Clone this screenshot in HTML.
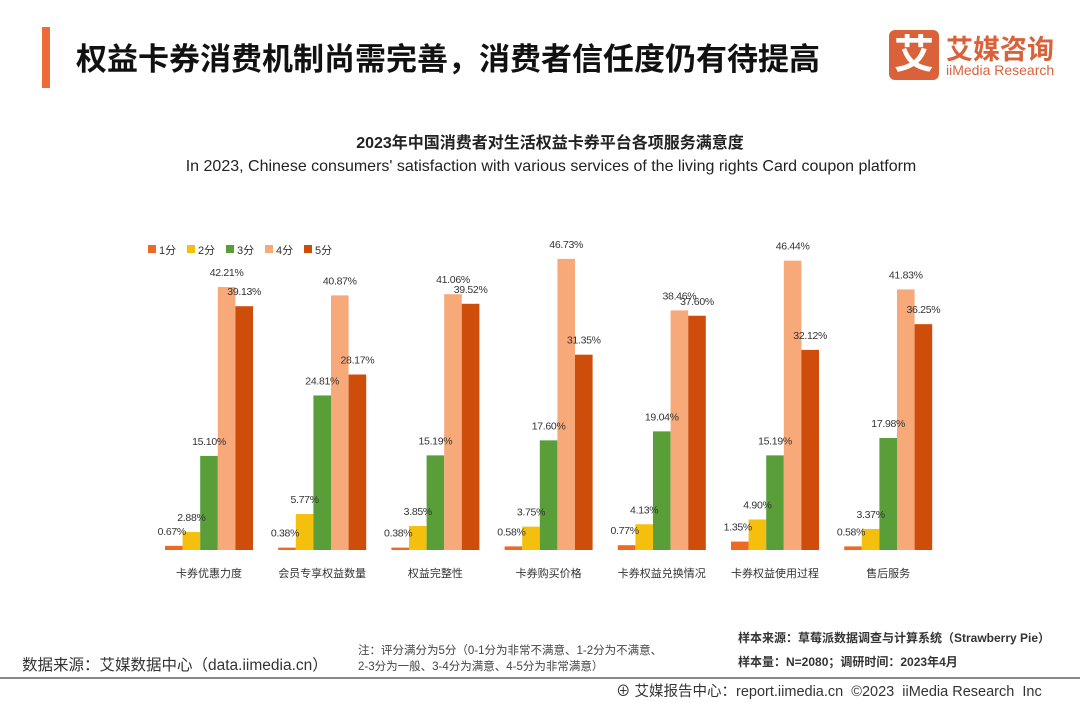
<!DOCTYPE html>
<html><head><meta charset="utf-8">
<style>
body{margin:0;width:1080px;height:702px;background:#fff;font-family:"Liberation Sans","Noto Sans CJK SC",sans-serif;overflow:hidden;position:relative}
.a{position:absolute;white-space:nowrap}
</style></head><body>
<div class="a" style="left:42px;top:27px;width:8px;height:61px;background:#ee6a3a"></div>
<div class="a" style="left:76px;top:34px;font-size:31px;font-weight:bold;color:#111">权益卡券消费机制尚需完善，消费者信任度仍有待提高</div>
<div class="a" style="left:889px;top:30px;width:50px;height:50px;background:#d9623b;border-radius:6px;color:#fff;font-size:40px;font-weight:bold;text-align:center;line-height:50px">艾</div>
<div class="a" style="left:946px;top:28px;font-size:27px;font-weight:bold;color:#d9623b">艾媒咨询</div>
<div class="a" style="left:946px;top:62px;font-size:14px;color:#d9623b">iiMedia Research</div>
<div class="a" style="left:0;width:1100px;text-align:center;top:129px;font-size:16px;font-weight:bold;color:#222">2023年中国消费者对生活权益卡券平台各项服务满意度</div>
<div class="a" style="left:0;width:1102px;text-align:center;top:158px;font-size:16px;color:#222">In 2023, Chinese consumers' satisfaction with various services of the living rights Card coupon platform</div>
<svg class="a" style="left:0;top:0" width="1080" height="702" id="chart"></svg>
<div class="a" style="left:22px;top:653px;font-size:15.5px;color:#333">数据来源：艾媒数据中心（data.iimedia.cn）</div>
<div class="a" style="left:358px;top:643px;font-size:11.5px;color:#444;line-height:16px">注：评分满分为5分（0-1分为非常不满意、1-2分为不满意、<br>2-3分为一般、3-4分为满意、4-5分为非常满意）</div>
<div class="a" style="left:738px;top:629px;font-size:12px;color:#333;font-weight:bold">样本来源：草莓派数据调查与计算系统（Strawberry Pie）</div>
<div class="a" style="left:738px;top:653px;font-size:12px;color:#333;font-weight:bold">样本量：N=2080；调研时间：2023年4月</div>
<div class="a" style="left:0;top:677px;width:1080px;height:2px;background:#888"></div>
<div class="a" style="left:616px;top:680px;font-size:14.5px;color:#333">⊕ 艾媒报告中心：report.iimedia.cn &nbsp;©2023 &nbsp;iiMedia Research &nbsp;Inc</div>
<script>
const categories=["卡券优惠力度","会员专享权益数量","权益完整性","卡券购买价格","卡券权益兑换情况","卡券权益使用过程","售后服务"];
const seriesNames=["1分","2分","3分","4分","5分"];
const s1=[0.67,0.38,0.38,0.58,0.77,1.35,0.58];
const s2=[2.88,5.77,3.85,3.75,4.13,4.90,3.37];
const s3=[15.10,24.81,15.19,17.60,19.04,15.19,17.98];
const s4=[42.21,40.87,41.06,46.73,38.46,46.44,41.83];
const s5=[39.13,28.17,39.52,31.35,37.60,32.12,36.25];
const series=[s1,s2,s3,s4,s5];
const colors=["#ee6a22","#f5bf0e","#5a9e3a","#f7a97a","#cf4d0a"];
const svg=document.getElementById('chart');const NS="http://www.w3.org/2000/svg";
const base=550,k=6.23,gx0=165,gstep=113.2,bw=17.6;
const y=v=>base-v*k;
const x=(c,s)=>gx0+c*gstep+s*bw;
function mk(t,a){const e=document.createElementNS(NS,t);for(const n in a)e.setAttribute(n,a[n]);svg.appendChild(e);return e;}
series.forEach((arr,s)=>{arr.forEach((v,c)=>{
 const r=mk('rect',{x:x(c,s),y:y(v),width:bw,height:v*k,fill:colors[s]});
 
 
});});
series.forEach((arr,s)=>{arr.forEach((v,c)=>{
 const t=mk('text',{x:x(c,s)+bw/2-(s==0?2:0),y:y(v)-11,'font-size':10.5,'letter-spacing':-0.3,'text-anchor':'middle',fill:'#333'});
 t.textContent=v.toFixed(2)+'%';
 
 
});});
categories.forEach((c,i)=>{const t=mk('text',{x:gx0+i*gstep+bw*2.5,y:577,'font-size':11,'text-anchor':'middle',fill:'#333'});t.textContent=c;
 
 });
seriesNames.forEach((n,i)=>{const lx=148+i*39;
 const r=mk('rect',{x:lx,y:245,width:8,height:8,fill:colors[i]});
 
 
 const t=mk('text',{x:lx+11,y:254,'font-size':11,fill:'#333'});t.textContent=n;
 
 });
</script>
</body></html>
